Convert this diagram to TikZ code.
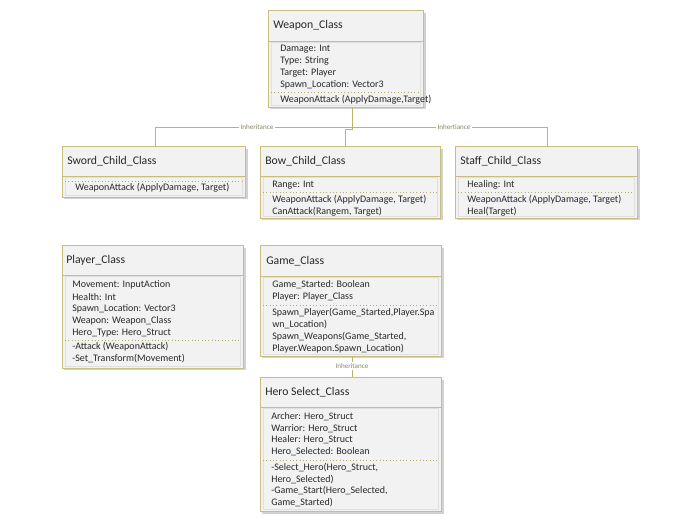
\documentclass[tikz,border=0pt]{standalone}
\usepackage{fontspec}
\setmainfont{Carlito}
\usetikzlibrary{fit}
\definecolor{olive}{RGB}{200,190,125}
\definecolor{lineol}{RGB}{190,180,105}
\definecolor{boxfill}{RGB}{242,242,242}
\definecolor{txt}{RGB}{40,40,40}
\definecolor{lbl}{RGB}{140,134,96}
\definecolor{shadowc}{RGB}{210,210,210}
\tikzset{
  x=0.75pt,y=-0.75pt,
  boxst/.style={draw=olive,line width=0.7pt,fill=boxfill,inner sep=0pt},
  border/.style={draw=olive,line width=0.7pt},
  inner/.style={draw=black!12,line width=0.3pt},
  sep/.style={draw=olive!90!black,line width=0.5pt,dotted},
  hdr/.style={anchor=west,inner sep=0pt,font=\fontsize{8.8}{10}\selectfont,text=txt},
  body/.style={anchor=west,inner sep=0pt,font=\fontsize{7.5}{8}\selectfont,text=txt},
  conn/.style={draw=lineol,line width=0.6pt},
  lab/.style={fill=white,inner sep=1pt,font=\fontsize{5.3}{6}\selectfont,text=lbl},
}
\newcommand\umlbox[6]{%
  \fill[shadowc] (#2+2,#3+3) rectangle (#4+2.5,#5+2.5);
  \coordinate (#1-nw) at (#2,#3); \coordinate (#1-se) at (#4,#5);
  \node[boxst,fit=(#1-nw)(#1-se)] (#1) {};
  \draw[inner] (#2+3,#6+1) rectangle (#4-3,#5-2);
  \draw[border] (#2,#6) -- (#4,#6);
}
\newcommand\sepline[4]{\draw[sep] (#1+3,#3) -- (#2-3,#3);}
\begin{document}
\begin{tikzpicture}
\useasboundingbox (0,0) rectangle (692,530);
\fill[white] (0,0) rectangle (692,530);

\coordinate (j1) at (352,127);
\coordinate (j2) at (352,129);
\coordinate (j3) at (345,129);
\coordinate (jl) at (155,127);
\coordinate (jr) at (547,127);

% Weapon_Class
\umlbox{wc}{268}{10}{423}{107}{41}
\node[hdr] (wc-t) at (273,25) {Weapon\_Class};
\node[body] (wc-1) at (280,49) {Damage: Int};
\node[body] (wc-2) at (280,61) {Type: String};
\node[body] (wc-3) at (280,73) {Target: Player};
\node[body] (wc-4) at (280,85) {Spawn\_Location: Vector3};
\sepline{268}{423}{92}{}
\node[body] (wc-5) at (280,100) {WeaponAttack (ApplyDamage,Target)};

% Sword
\umlbox{sw}{62}{146}{245}{197}{176}
\node[hdr] (sw-t) at (67,161) {Sword\_Child\_Class};
\sepline{62}{245}{181}{}
\node[body] (sw-1) at (75,188) {WeaponAttack (ApplyDamage, Target)};

% Bow
\umlbox{bw}{260}{146}{440}{218}{176}
\node[hdr] (bw-t) at (265,161) {Bow\_Child\_Class};
\node[body] (bw-1) at (272,185) {Range: Int};
\sepline{260}{440}{192}{}
\node[body] (bw-2) at (272,200) {WeaponAttack (ApplyDamage, Target)};
\node[body] (bw-3) at (272,212) {CanAttack(Rangem, Target)};

% Staff
\umlbox{st}{455}{146}{637}{218}{176}
\node[hdr] (st-t) at (460,161) {Staff\_Child\_Class};
\node[body] (st-1) at (467,185) {Healing: Int};
\sepline{455}{637}{192}{}
\node[body] (st-2) at (467,200) {WeaponAttack (ApplyDamage, Target)};
\node[body] (st-3) at (467,212) {Heal(Target)};

\draw[conn] (wc.south -| j1) -- (j1);
\draw[conn] (j1) -- (jl) -- (sw.north -| jl);
\draw[conn] (j1) -- (jr) -- (st.north -| jr);
\draw[conn] (j1) -- (j2) -- (j3) -- (bw.north -| j3);
\node[lab] (l1) at (257,127) {Inheritance};
\node[lab] (l2) at (454,127) {Inhertiance};

% Player
\umlbox{pl}{62}{245}{243}{368}{275}
\node[hdr] (pl-t) at (66,260) {Player\_Class};
\node[body] (pl-1) at (72,285) {Movement: InputAction};
\node[body] (pl-2) at (72,297) {Health: Int};
\node[body] (pl-3) at (72,309) {Spawn\_Location: Vector3};
\node[body] (pl-4) at (72,321) {Weapon: Weapon\_Class};
\node[body] (pl-5) at (72,333) {Hero\_Type: Hero\_Struct};
\sepline{62}{243}{340}{}
\node[body] (pl-6) at (72,347) {-Attack (WeaponAttack)};
\node[body] (pl-7) at (72,359) {-Set\_Transform(Movement)};

% Game
\umlbox{gm}{260}{245}{441}{356}{276}
\node[hdr] (gm-t) at (266,261) {Game\_Class};
\node[body] (gm-1) at (272,285) {Game\_Started: Boolean};
\node[body] (gm-2) at (272,297) {Player: Player\_Class};
\sepline{260}{441}{305}{}
\node[body] (gm-3) at (272,313) {Spawn\_Player(Game\_Started,Player.Spa};
\node[body] (gm-4) at (272,325) {wn\_Location)};
\node[body] (gm-5) at (272,337) {Spawn\_Weapons(Game\_Started,};
\node[body] (gm-6) at (272,349) {Player.Weapon.Spawn\_Location)};

% Hero Select
\umlbox{hs}{260}{377}{441}{511}{407}
\node[hdr] (hs-t) at (265,392) {Hero Select\_Class};
\node[body] (hs-1) at (271,417) {Archer: Hero\_Struct};
\node[body] (hs-2) at (271,429) {Warrior: Hero\_Struct};
\node[body] (hs-3) at (271,440) {Healer: Hero\_Struct};
\node[body] (hs-4) at (271,452) {Hero\_Selected: Boolean};
\sepline{260}{441}{460}{}
\node[body] (hs-5) at (271,468) {-Select\_Hero(Hero\_Struct,};
\node[body] (hs-6) at (271,480) {Hero\_Selected)};
\node[body] (hs-7) at (271,491) {-Game\_Start(Hero\_Selected,};
\node[body] (hs-8) at (271,503) {Game\_Started)};

\coordinate (jg) at (352,0);
\draw[conn] (gm.south -| jg) -- (hs.north -| jg);
\node[lab] (l3) at (352,366) {Inheritance};
\end{tikzpicture}
\end{document}
